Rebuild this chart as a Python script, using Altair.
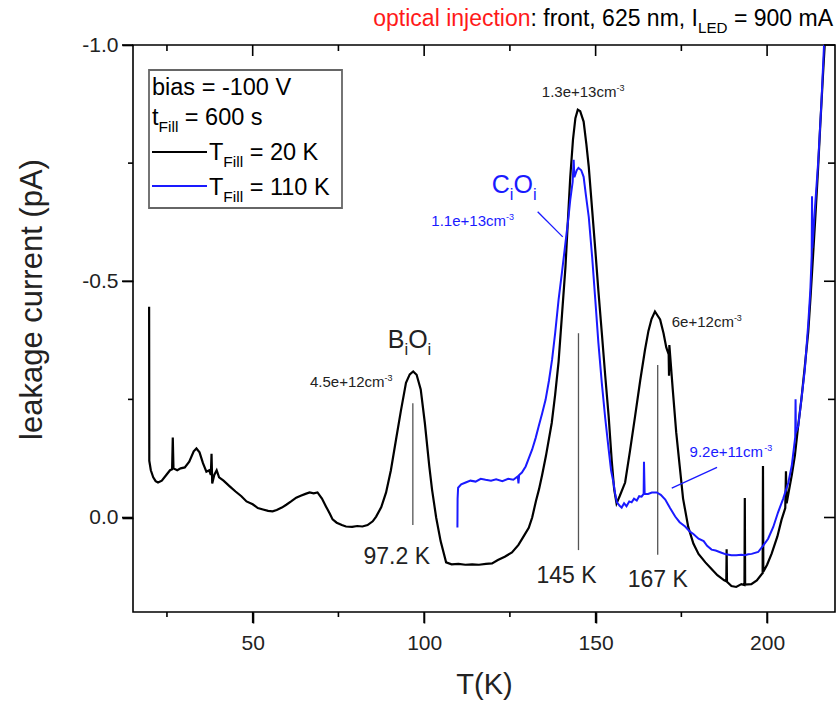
import altair as alt
import pandas as pd

FONT = "Liberation Sans"
BLUE = "#1a1aff"
DARK = "#222222"
RED = "#ff1a1a"

W_PLOT, H_PLOT = 702, 567
X_DOM = [15.1, 219.8]
Y_DOM = [-1.0, 0.2]

# ---------------- data: T_Fill = 20 K (black) ----------------
black_T = [19.8, 19.85, 20.3, 21.0, 21.7, 22.4, 23.5, 24.8, 25.9, 26.5, 26.7, 26.9, 28.0, 29.0, 30.2,
           31.5, 32.8, 33.6, 34.5, 35.5, 36.5, 37.3, 37.8, 38.0, 38.2, 38.8, 39.5, 40.2, 41.5, 43.3,
           45.0, 46.7, 48.2, 50.0, 51.5, 53.0, 54.5, 55.8, 57.0, 58.5, 59.8, 61.2, 62.7, 64.0, 65.4,
           66.6, 67.8, 68.9, 70.2, 71.4, 72.5, 73.3, 74.5, 76.0, 77.2, 79.0, 80.5, 82.0, 83.5, 85.0,
           86.0, 87.5, 88.9, 90.3, 91.8, 93.2, 94.7, 95.8, 96.8, 97.8, 99.0, 100.2, 101.5, 102.3, 103.5,
           104.8, 106.4, 108.0, 110.0, 112.0, 114.0, 116.0, 118.0, 119.8, 121.5, 123.5, 125.6, 127.5, 129.0, 130.5,
           131.5, 132.6, 133.5, 134.4, 135.5, 137.2, 138.2, 139.2, 140.2, 141.2, 142.0, 142.6, 143.4, 144.1, 144.8,
           145.5, 146.5, 147.3, 148.0, 149.0, 149.9, 150.8, 151.8, 152.8, 153.8, 154.7, 155.4, 156.1, 157.0, 158.6,
           160.0, 161.5, 163.0, 164.4, 165.4, 166.3, 167.3, 168.0, 168.8, 169.8, 170.6, 171.3, 171.4, 171.5, 172.5,
           173.5, 174.5, 175.5, 177.0, 178.5, 180.0, 182.0, 183.8, 185.5, 187.5, 188.1, 188.2, 188.3, 189.6, 191.0,
           192.5, 193.4, 193.5, 193.6, 195.4, 197.0, 198.4, 198.7, 198.8, 198.9, 200.0, 201.3, 203.0, 204.2, 205.3,
           205.5, 205.7, 206.2, 207.2, 208.1, 209.0, 210.0, 211.0, 212.0, 212.7, 213.4, 214.1, 214.8, 215.5, 216.3,
           216.8, 217.2]
black_I = [-0.446, -0.120, -0.100, -0.085, -0.077, -0.074, -0.078, -0.090, -0.100, -0.102, -0.169, -0.104, -0.100, -0.104, -0.106,
           -0.118, -0.140, -0.146, -0.138, -0.115, -0.097, -0.100, -0.090, -0.135, -0.072, -0.090, -0.100, -0.085, -0.078, -0.066,
           -0.055, -0.045, -0.034, -0.028, -0.020, -0.017, -0.014, -0.013, -0.016, -0.021, -0.027, -0.034, -0.042, -0.046, -0.050,
           -0.053, -0.051, -0.053, -0.040, -0.023, -0.008, 0.004, 0.011, 0.016, 0.019, 0.020, 0.018, 0.019, 0.016, 0.008,
           -0.002, -0.022, -0.053, -0.100, -0.165, -0.225, -0.285, -0.303, -0.309, -0.302, -0.271, -0.200, -0.108, -0.059, 0.000,
           0.050, 0.095, 0.099, 0.098, 0.100, 0.099, 0.100, 0.098, 0.097, 0.090, 0.083, 0.074, 0.058, 0.040, 0.022,
           0.000, -0.035, -0.060, -0.090, -0.130, -0.200, -0.260, -0.330, -0.430, -0.530, -0.640, -0.720, -0.800, -0.845, -0.863,
           -0.860, -0.838, -0.790, -0.742, -0.650, -0.567, -0.480, -0.391, -0.300, -0.214, -0.120, -0.060, -0.030, -0.045, -0.074,
           -0.140, -0.214, -0.290, -0.355, -0.395, -0.420, -0.436, -0.428, -0.419, -0.390, -0.360, -0.345, -0.300, -0.365, -0.270,
           -0.180, -0.110, -0.040, 0.020, 0.055, 0.077, 0.095, 0.109, 0.122, 0.133, 0.135, 0.067, 0.136, 0.145, 0.147,
           0.141, 0.143, -0.041, 0.142, 0.141, 0.133, 0.120, 0.118, -0.109, 0.115, 0.100, 0.077, 0.040, 0.005, -0.020,
           -0.098, -0.030, -0.050, -0.090, -0.131, -0.190, -0.250, -0.320, -0.393, -0.470, -0.554, -0.640, -0.729, -0.830, -0.937,
           -1.000, -1.060]

# ---------------- data: T_Fill = 110 K (blue) ----------------
blue_T = [109.7, 109.75, 109.9, 110.8, 112.1, 113.5, 115.0, 116.5, 117.9, 119.5, 121.0, 122.8, 124.5, 126.0, 127.3,
          127.5, 127.7, 128.5, 129.6, 130.5, 131.5, 132.5, 133.4, 134.4, 135.4, 136.4, 137.3, 138.2, 139.2, 140.2,
          141.2, 142.0, 142.6, 143.3, 143.6, 143.8, 144.5, 145.0, 145.8, 146.5, 147.2, 148.0, 149.0, 149.9, 150.8,
          151.8, 152.8, 153.8, 154.5, 155.2, 155.7, 156.2, 157.0, 157.6, 158.3, 159.0, 159.8, 160.5, 161.2, 162.0,
          162.7, 163.4, 164.0, 164.1, 164.3, 165.3, 166.4, 167.8, 169.0, 170.3, 171.7, 173.2, 174.5, 176.1, 177.5,
          178.5, 180.0, 181.5, 182.5, 183.8, 185.0, 186.5, 188.0, 189.6, 191.0, 192.5, 193.5, 194.5, 195.5, 197.4,
          198.8, 200.3, 201.8, 203.2, 204.7, 206.2, 207.2, 208.2, 208.3, 208.4, 209.1, 210.0, 211.0, 212.0, 212.6,
          213.0, 213.1, 213.2, 213.9, 214.9, 215.8, 216.6, 217.0]
blue_I = [0.021, -0.040, -0.063, -0.070, -0.074, -0.078, -0.076, -0.082, -0.080, -0.078, -0.081, -0.077, -0.082, -0.080, -0.087,
          -0.072, -0.090, -0.095, -0.108, -0.125, -0.144, -0.168, -0.193, -0.220, -0.249, -0.290, -0.334, -0.390, -0.461, -0.520,
          -0.581, -0.630, -0.672, -0.710, -0.757, -0.720, -0.735, -0.740, -0.735, -0.721, -0.680, -0.636, -0.550, -0.461, -0.370,
          -0.285, -0.210, -0.144, -0.100, -0.074, -0.050, -0.032, -0.025, -0.021, -0.030, -0.024, -0.034, -0.032, -0.040, -0.036,
          -0.045, -0.044, -0.050, -0.118, -0.050, -0.050, -0.053, -0.053, -0.048, -0.038, -0.020, -0.002, 0.010, 0.019, 0.030,
          0.035, 0.045, 0.050, 0.060, 0.068, 0.070, 0.074, 0.078, 0.080, 0.080, 0.079, 0.080, 0.078, 0.077, 0.073,
          0.060, 0.045, 0.020, -0.011, -0.040, -0.074, -0.110, -0.170, -0.250, -0.180, -0.194, -0.250, -0.313, -0.410, -0.480,
          -0.554, -0.680, -0.570, -0.649, -0.753, -0.872, -1.000, -1.050]

# ---------------- peak markers ----------------
peak_T = [96.7, 145.0, 168.1]
peak_top = [-0.242, -0.390, -0.323]
peak_bot = [0.016, 0.069, 0.079]
peak_labels = ["97.2 K", "145 K", "167 K"]
peak_label_T = [92.0, 141.5, 168.1]
peak_label_I = [0.098, 0.139, 0.147]

# blue leader lines (from, to)
lead_T1 = [133.1, 172.2]
lead_I1 = [-0.647, -0.062]
lead_T2 = [140.4, 185.4]
lead_I2 = [-0.594, -0.106]

x_major = [50, 100, 150, 200]
x_minor = [25, 75, 125, 175]
y_major = [-1.0, -0.5, 0.0]
y_minor = [-0.75, -0.25]

black_df = pd.DataFrame({"T": black_T, "I": black_I, "idx": range(len(black_T))})
blue_df = pd.DataFrame({"T": blue_T, "I": blue_I, "idx": range(len(blue_T))})
peak_df = pd.DataFrame({"T": peak_T, "top": peak_top, "bot": peak_bot})
lead_df = pd.DataFrame({"T1": lead_T1, "I1": lead_I1, "T2": lead_T2, "I2": lead_I2})
one = pd.DataFrame({"k": [0]})

xs = alt.Scale(domain=X_DOM, nice=False, zero=False)
ys = alt.Scale(domain=Y_DOM, reverse=True, nice=False, zero=False)

main_x_axis = alt.Axis(
    orient="bottom", values=x_major, labelExpr="'' + datum.value", tickSize=11, ticks=True,
    tickColor="black", tickWidth=1.6, domain=False, grid=False,
    labelFont=FONT, labelFontSize=21, labelColor=DARK, labelPadding=9, labelOverlap=False, labelFlush=False,
    title="T(K)", titleFont=FONT, titleFontSize=29, titleFontWeight="normal", titleColor=DARK,
    titleY=81, titleBaseline="alphabetic",
)
main_y_axis = alt.Axis(
    orient="left", values=y_major,
    labelExpr="datum.value == -1 ? '-1.0' : (datum.value == -0.5 ? '-0.5' : '0.0')",
    tickSize=11, ticks=True, tickColor="black", tickWidth=1.6, domain=False, grid=False,
    labelFont=FONT, labelFontSize=21, labelColor=DARK, labelPadding=4, labelOverlap=False, labelFlush=False,
    title="leakage current (pA)", titleFont=FONT, titleFontSize=31, titleFontWeight="normal", titleColor=DARK,
    titleAngle=270, titleX=-101, titleY=254, titleAlign="center", titleBaseline="middle",
)

# ---------------- rich text helper ----------------
AW = {' ': 278, '(': 333, ')': 333, '+': 584, ',': 278, '-': 333, '.': 278, ':': 278, '=': 584,
      'A': 667, 'B': 667, 'C': 722, 'D': 722, 'E': 667, 'F': 611, 'I': 278, 'K': 667, 'L': 556,
      'O': 778, 'T': 611, 'V': 667, 'a': 556, 'b': 556, 'c': 500, 'e': 556, 'f': 278, 'g': 556,
      'i': 222, 'j': 222, 'k': 500, 'l': 222, 'm': 833, 'n': 556, 'o': 556, 'p': 556, 'r': 333,
      's': 500, 't': 278, 'u': 556, 'v': 500}


def tw(s, size):
    return sum(AW.get(c, 556) for c in s) / 1000.0 * size


def rich(segs, x, y, size, color, align="left"):
    """segs: list of (text, kind[, color]); kind 'n', 'sub' or 'sup'."""
    items = []
    for seg in segs:
        t, k = seg[0], seg[1]
        c = seg[2] if len(seg) > 2 else color
        fs = size if k == "n" else (size * 0.66 if k == "sub" else size * 0.6)
        dy = 0 if k == "n" else (size * 0.3 if k == "sub" else -size * 0.42)
        lead = len(t) - len(t.lstrip(" "))
        items.append((t.strip(" "), fs, dy, c, tw(t, fs), lead * 0.278 * fs))
    total = sum(i[4] for i in items)
    off = 0 if align == "left" else (-total / 2 if align == "center" else -total)
    out = []
    for t, fs, dy, c, w, lead_w in items:
        out.append(
            alt.Chart(one).mark_text(text=t, align="left", baseline="alphabetic", dx=off + lead_w, dy=dy,
                                     fontSize=fs, font=FONT, color=c).encode(x=x, y=y)
        )
        off += w
    return out


def dx_(v):
    return alt.X(datum=v, scale=xs, axis=None)


def dy_(v):
    return alt.Y(datum=v, scale=ys, axis=None)


layers = []

# curves (first layer carries the axes)
layers.append(alt.Chart(black_df).mark_line(color="black", strokeWidth=2.2, clip=True).encode(
    x=alt.X("T:Q", scale=xs, axis=main_x_axis), y=alt.Y("I:Q", scale=ys, axis=main_y_axis), order="idx:Q"))

# peak marker rules
layers.append(alt.Chart(peak_df).mark_rule(color="#555555", strokeWidth=1.3).encode(
    x=alt.X("T:Q", scale=xs, axis=None), y=alt.Y("top:Q", scale=ys, axis=None), y2="bot:Q"))

# leader lines
layers.append(alt.Chart(lead_df).mark_rule(color=BLUE, strokeWidth=1.3).encode(
    x=alt.X("T1:Q", scale=xs, axis=None), y=alt.Y("I1:Q", scale=ys, axis=None), x2="T2:Q", y2="I2:Q"))

layers.append(alt.Chart(blue_df).mark_line(color=BLUE, strokeWidth=2.0, clip=True).encode(
    x=alt.X("T:Q", scale=xs, axis=None), y=alt.Y("I:Q", scale=ys, axis=None), order="idx:Q"))

# peak labels
for lab, t, i in zip(peak_labels, peak_label_T, peak_label_I):
    layers += rich([(lab, "n")], dx_(t), dy_(i), 23, DARK, align="center")

# defect names
layers += rich([("B", "n"), ("i", "sub"), ("O", "n"), ("i", "sub")], dx_(89.4), dy_(-0.359), 25, DARK)
layers += rich([("C", "n"), ("i", "sub"), ("O", "n"), ("i", "sub")], dx_(119.7), dy_(-0.687), 25, BLUE)

# concentrations
layers += rich([("4.5e+12cm", "n"), ("-3", "sup")], dx_(90.8), dy_(-0.276), 15, DARK, align="right")
layers += rich([("1.3e+13cm", "n"), ("-3", "sup")], dx_(134.3), dy_(-0.890), 15, DARK)
layers += rich([("1.1e+13cm", "n"), ("-3", "sup")], dx_(102.1), dy_(-0.617), 15, BLUE)
layers += rich([("6e+12cm", "n"), ("-3", "sup")], dx_(172.2), dy_(-0.403), 15, DARK)
layers += rich([("9.2e+11cm", "n"), ("-3", "sup")], dx_(177.4), dy_(-0.128), 15, BLUE)

# legend box
layers.append(alt.Chart(one).mark_rect(fill="white", stroke="#666666", strokeWidth=1.8).encode(
    x=alt.value(16), x2=alt.value(209), y=alt.value(25), y2=alt.value(163)))
layers.append(alt.Chart(one).mark_rule(color="black", strokeWidth=2).encode(
    x=alt.value(19), x2=alt.value(74), y=alt.value(107)))
layers.append(alt.Chart(one).mark_rule(color=BLUE, strokeWidth=2).encode(
    x=alt.value(19), x2=alt.value(74), y=alt.value(141)))
layers += rich([("bias = -100 V", "n")], alt.value(19), alt.value(50), 23.5, "black")
layers += rich([("t", "n"), ("Fill", "sub"), (" = 600 s", "n")], alt.value(19), alt.value(80), 23.5, "black")
layers += rich([("T", "n"), ("Fill", "sub"), (" = 20 K", "n")], alt.value(76), alt.value(115), 23.5, "black")
layers += rich([("T", "n"), ("Fill", "sub"), (" = 110 K", "n")], alt.value(76), alt.value(150), 23.5, "black")

# header line
layers += rich([("optical injection", "n", RED), (": front, 625 nm, I", "n"), ("LED", "sub"), (" = 900 mA", "n")],
               alt.value(700), alt.value(-19), 23, "black", align="right")

# tick marks, one datum-positioned rule per tick (outward bottom/left, inward top/right)
for vals, a, b in [(x_major, H_PLOT, H_PLOT + 11), (x_minor, H_PLOT, H_PLOT + 5),
                   (x_major, 0, 11), (x_minor, 0, 6)]:
    for v in vals:
        layers.append(alt.Chart(one).mark_rule(color="black", strokeWidth=1.6).encode(
            x=dx_(v), y=alt.value(a), y2=alt.value(b)))
for vals, a, b in [(y_major, 0, -11), (y_minor, 0, -5),
                   (y_major, W_PLOT, W_PLOT - 11), (y_minor, W_PLOT, W_PLOT - 7)]:
    for v in vals:
        layers.append(alt.Chart(one).mark_rule(color="black", strokeWidth=1.6).encode(
            y=dy_(v), x=alt.value(a), x2=alt.value(b)))

chart = alt.layer(*layers).resolve_axis(x="independent", y="independent").properties(
    width=W_PLOT, height=H_PLOT,
    autosize=alt.AutoSizeParams(type="none"),
    padding={"left": 133, "top": 45, "right": 3, "bottom": 89},
).configure_view(stroke="black", strokeWidth=1.6)

chart.save("out.html", embed_options={"renderer": "svg", "actions": False})
